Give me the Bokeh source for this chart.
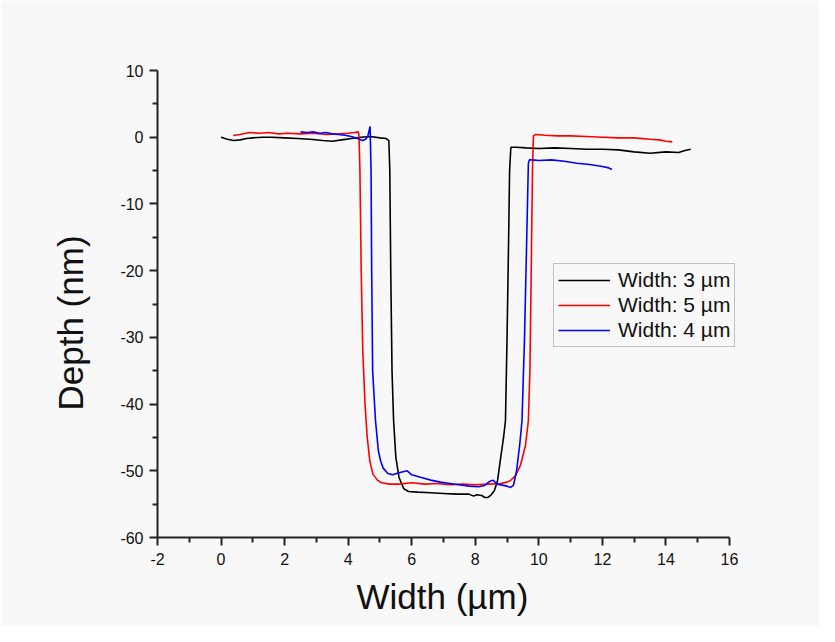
from bokeh.plotting import figure
from bokeh.models import Range1d, FixedTicker, Legend, LegendItem, Title
from bokeh.embed import file_html
from bokeh.resources import INLINE

# ---- data ----
x_black = [0.0, 0.2, 0.4, 0.6, 0.8, 1.0, 1.3, 1.6, 2.0, 2.4, 2.8, 3.2, 3.5, 3.8, 4.1, 4.4,
           4.7, 5.0, 5.2, 5.28, 5.31, 5.34, 5.38, 5.43, 5.5, 5.6, 5.75, 5.9, 6.2, 6.6, 7.0,
           7.4, 7.8, 7.95, 8.05, 8.2, 8.3, 8.4, 8.5, 8.6, 8.7, 8.8, 8.89, 8.95, 9.0, 9.05,
           9.08, 9.12, 9.3, 9.6, 10.0, 10.5, 11.0, 11.5, 12.0, 12.5, 13.0, 13.5, 14.0, 14.4,
           14.6, 14.78]
y_black = [0.0, -0.3, -0.5, -0.4, -0.2, -0.1, 0.0, 0.0, -0.1, -0.2, -0.3, -0.5, -0.6, -0.4,
           -0.2, 0.0, 0.1, -0.1, -0.2, -0.5, -5.0, -20.0, -35.0, -42.5, -48.0, -51.0, -52.7,
           -53.1, -53.2, -53.3, -53.4, -53.5, -53.5, -53.8, -53.6, -53.7, -54.0, -54.0, -53.6,
           -53.0, -51.5, -48.0, -45.0, -42.5, -30.0, -15.0, -5.0, -1.5, -1.5, -1.6, -1.7,
           -1.6, -1.7, -1.8, -1.8, -1.9, -2.2, -2.4, -2.2, -2.3, -2.0, -1.8]

x_red = [0.38, 0.6, 0.9, 1.2, 1.5, 1.8, 2.1, 2.5, 2.9, 3.3, 3.7, 4.0, 4.2, 4.32, 4.34, 4.37,
         4.41, 4.46, 4.53, 4.6, 4.68, 4.78, 4.92, 5.05, 5.3, 5.6, 6.0, 6.4, 6.8, 7.2, 7.6,
         8.0, 8.4, 8.8, 9.0, 9.1, 9.27, 9.42, 9.58, 9.67, 9.72, 9.76, 9.8, 9.83, 9.9, 10.2,
         10.6, 11.0, 11.5, 12.0, 12.5, 13.0, 13.5, 13.8, 14.0, 14.2]
y_red = [0.25, 0.4, 0.7, 0.6, 0.7, 0.5, 0.6, 0.5, 0.6, 0.4, 0.5, 0.6, 0.7, 0.8, 0.3, -5.0,
         -20.0, -32.0, -40.0, -45.0, -48.5, -50.5, -51.4, -51.8, -52.0, -52.0, -51.8, -52.0,
         -51.9, -52.1, -52.0, -52.1, -52.0, -51.9, -51.7, -51.5, -50.7, -49.2, -46.2, -42.5,
         -35.0, -20.0, -5.0, 0.2, 0.4, 0.3, 0.2, 0.2, 0.1, 0.0, -0.1, -0.1, -0.3, -0.4,
         -0.6, -0.7]

x_blue = [2.5, 2.7, 2.9, 3.1, 3.3, 3.5, 3.7, 3.9, 4.1, 4.3, 4.45, 4.55, 4.62, 4.69, 4.72,
          4.74, 4.77, 4.86, 4.95, 5.02, 5.1, 5.25, 5.4, 5.6, 5.86, 6.0, 6.3, 6.6, 6.9, 7.2,
          7.5, 7.8, 8.1, 8.3, 8.45, 8.55, 8.7, 9.0, 9.11, 9.2, 9.3, 9.4, 9.47, 9.55, 9.62,
          9.67, 9.7, 9.8, 10.0, 10.4, 10.8, 11.2, 11.6, 12.0, 12.2, 12.3]
y_blue = [0.8, 0.7, 0.8, 0.6, 0.7, 0.5, 0.4, 0.3, 0.1, -0.2, -0.5, -0.3, 0.2, 1.6, -5.0,
          -20.0, -35.0, -42.5, -47.0, -48.5, -49.6, -50.4, -50.6, -50.3, -50.0, -50.6,
          -51.0, -51.4, -51.7, -51.9, -52.1, -52.3, -52.4, -52.2, -51.6, -51.4, -52.0,
          -52.3, -52.5, -52.2, -50.0, -46.0, -42.5, -30.0, -15.0, -4.0, -3.4, -3.4, -3.5,
          -3.4, -3.6, -3.9, -4.1, -4.4, -4.6, -4.85]

labels = ["Width: 3 \u00b5m", "Width: 5 \u00b5m", "Width: 4 \u00b5m"]
colors = ["#000000", "#ff0000", "#0000ff"]

x_ticks = [-2, 0, 2, 4, 6, 8, 10, 12, 14, 16]
x_minor = [-1, 1, 3, 5, 7, 9, 11, 13, 15]
y_ticks = [-60, -50, -40, -30, -20, -10, 0, 10]
y_minor = [-55, -45, -35, -25, -15, -5, 5]
x_title = "Width (\u00b5m)"
y_title = "Depth (nm)"

FONT = "Liberation Sans"
BG = "#f8f8f8"

# frame extends a little past x=16 (axis line bounded at 16) so the legend is not clipped
X_END = 16.0 + 16.0 / 31.78

p = figure(width=819, height=626, output_backend="svg", toolbar_location=None,
           x_range=Range1d(-2, X_END), y_range=Range1d(-60, 10),
           min_border_left=157, min_border_right=74, min_border_top=70, min_border_bottom=89,
           background_fill_color=BG, border_fill_color=BG, outline_line_color=None)

p.xgrid.visible = False
p.ygrid.visible = False

r1 = p.line(x_black, y_black, line_color=colors[0], line_width=1.6)
r2 = p.line(x_red, y_red, line_color=colors[1], line_width=1.6)
r3 = p.line(x_blue, y_blue, line_color=colors[2], line_width=1.6)

for ax, ticks, minor in ((p.xaxis[0], x_ticks, x_minor), (p.yaxis[0], y_ticks, y_minor)):
    ax.ticker = FixedTicker(ticks=ticks, minor_ticks=minor)
    ax.major_label_overrides = {t: str(t) for t in ticks}
    ax.bounds = (min(ticks), max(ticks))
    ax.axis_line_width = 2
    ax.axis_line_color = "#222222"
    ax.major_tick_line_color = "#222222"
    ax.minor_tick_line_color = "#222222"
    ax.major_tick_line_width = 2
    ax.minor_tick_line_width = 2
    ax.major_tick_out = 8
    ax.major_tick_in = 0
    ax.minor_tick_out = 5
    ax.minor_tick_in = 0
    ax.major_label_text_font = FONT
    ax.major_label_text_font_size = "16px"
    ax.major_label_text_color = "#111111"

p.xaxis.major_label_standoff = 7
p.yaxis.major_label_standoff = 6

# axis titles as side-panel titles so they can sit where the reference has them
xtitle = Title(text=x_title, align="left", offset=199, standoff=15,
               text_font=FONT, text_font_size="35px", text_font_style="normal",
               text_color="#111111", background_fill_color=None)
p.add_layout(xtitle, "below")
ytitle = Title(text=y_title, align="left", offset=127, standoff=55,
               text_font=FONT, text_font_size="35px", text_font_style="normal",
               text_color="#111111", background_fill_color=None)
p.add_layout(ytitle, "left")

legend = Legend(items=[LegendItem(label=labels[0], renderers=[r1]),
                       LegendItem(label=labels[1], renderers=[r2]),
                       LegendItem(label=labels[2], renderers=[r3])],
                location=(396, 190))
legend.label_text_font = FONT
legend.label_text_font_size = "21px"
legend.label_text_color = "#111111"
legend.glyph_width = 52
legend.glyph_height = 24
legend.label_height = 24
legend.spacing = 1
legend.padding = 4
legend.margin = 0
legend.label_standoff = 8
legend.border_line_color = "#888888"
legend.border_line_width = 1
legend.background_fill_color = BG
legend.background_fill_alpha = 1.0
p.add_layout(legend, "center")

open("out.html", "w").write(file_html(p, INLINE))
